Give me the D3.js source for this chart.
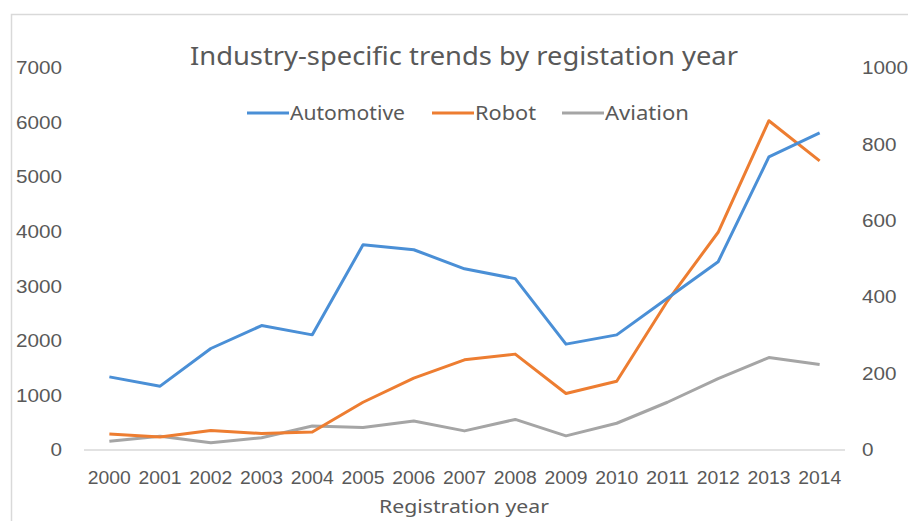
<!DOCTYPE html>
<html>
<head>
<meta charset="utf-8">
<script src="https://cdn.jsdelivr.net/npm/d3@7"></script>
<style>
    body { margin: 0; background: #fff; }
    svg { display: block; font-family: 'Noto Sans', 'Open Sans', sans-serif; }
</style>
</head>
<body>
<svg width="908" height="521"></svg>
<script>
var years = ['2000', '2001', '2002', '2003', '2004', '2005', '2006', '2007', '2008', '2009', '2010', '2011', '2012', '2013', '2014'];
var automotive = [1340, 1170, 1860, 2280, 2110, 3760, 3670, 3320, 3140, 1940, 2110, 2780, 3450, 5370, 5810];
var robot = [42, 34, 51, 43, 47, 125, 188, 236, 251, 148, 180, 390, 570, 862, 757];
var aviation = [23, 36, 19, 32, 63, 59, 76, 50, 80, 37, 70, 125, 187, 242, 224];
var leftTicks = [0, 1000, 2000, 3000, 4000, 5000, 6000, 7000];
var rightTicks = [0, 200, 400, 600, 800, 1000];

var svg = d3.select('svg');
var textColor = '#595959';
var fmt = d3.format('d');

// chart frame
svg.append('path')
    .attr('d', 'M11.5,521V14.5H908')
    .attr('fill', 'none')
    .attr('stroke', '#d9d9d9')
    .attr('stroke-width', 1.5);

var x = d3.scaleBand().domain(years).range([84, 845]);
var yLeft = d3.scaleLinear().domain([0, 7000]).range([450, 68]);
var yRight = d3.scaleLinear().domain([0, 1000]).range([450, 68]);

function cx(d) { return x(d) + x.bandwidth() / 2; }

// baseline
svg.append('line')
    .attr('x1', 84).attr('x2', 845)
    .attr('y1', 450).attr('y2', 450)
    .attr('stroke', '#d9d9d9').attr('stroke-width', 1.3);

// left axis
var gl = svg.append('g').attr('transform', 'translate(62,0)')
    .call(d3.axisLeft(yLeft).tickValues(leftTicks).tickFormat(fmt).tickSize(0).tickPadding(0));
gl.select('.domain').remove();
gl.selectAll('text').attr('fill', textColor).style('font-size', '18px')
    .attr('textLength', function(d) { return String(d).length * 11.5; })
    .attr('lengthAdjust', 'spacingAndGlyphs');

// right axis
var gr = svg.append('g').attr('transform', 'translate(862,0)')
    .call(d3.axisRight(yRight).tickValues(rightTicks).tickFormat(fmt).tickSize(0).tickPadding(0));
gr.select('.domain').remove();
gr.selectAll('text').attr('fill', textColor).style('font-size', '18px')
    .attr('textLength', function(d) { return String(d).length * 11.5; })
    .attr('lengthAdjust', 'spacingAndGlyphs');

// x axis
var gx = svg.append('g').attr('transform', 'translate(0,468)')
    .call(d3.axisBottom(x).tickSize(0).tickPadding(0));
gx.select('.domain').remove();
gx.selectAll('text').attr('fill', textColor).style('font-size', '18px')
    .attr('dy', '0.9em').attr('textLength', 43).attr('lengthAdjust', 'spacingAndGlyphs');

svg.append('text')
    .attr('x', 464).attr('y', 513)
    .attr('text-anchor', 'middle')
    .attr('fill', textColor)
    .style('font-size', '18px')
    .attr('textLength', 170).attr('lengthAdjust', 'spacingAndGlyphs')
    .text('Registration year');

svg.append('text')
    .attr('x', 464).attr('y', 65)
    .attr('text-anchor', 'middle')
    .attr('fill', textColor)
    .style('font-size', '25px')
    .attr('textLength', 548).attr('lengthAdjust', 'spacingAndGlyphs')
    .text('Industry-specific trends by registation year');

var series = [
    { name: 'Automotive', values: automotive, scale: yLeft, color: '#4a8fd6', lx: 247, tw: 115 },
    { name: 'Robot', values: robot, scale: yRight, color: '#ed7d31', lx: 432, tw: 61 },
    { name: 'Aviation', values: aviation, scale: yRight, color: '#a5a5a5', lx: 562, tw: 84 }
];

// draw aviation first so the others sit on top
series.slice().reverse().forEach(function(s) {
    var line = d3.line()
        .x(function(d, i) { return cx(years[i]); })
        .y(function(d) { return s.scale(d); });
    svg.append('path')
        .datum(s.values)
        .attr('d', line)
        .attr('fill', 'none')
        .attr('stroke', s.color)
        .attr('stroke-width', 3)
        .attr('stroke-linejoin', 'round');
});

// legend
series.forEach(function(s) {
    var g = svg.append('g').attr('transform', 'translate(' + s.lx + ',113)');
    g.append('line').attr('x1', 0).attr('x2', 42).attr('y1', 0).attr('y2', 0)
        .attr('stroke', s.color).attr('stroke-width', 3);
    g.append('text').attr('x', 43).attr('y', 0).attr('dy', '0.35em')
        .attr('fill', textColor).style('font-size', '19px')
        .attr('textLength', s.tw).attr('lengthAdjust', 'spacingAndGlyphs')
        .text(s.name);
});
</script>
</body>
</html>
